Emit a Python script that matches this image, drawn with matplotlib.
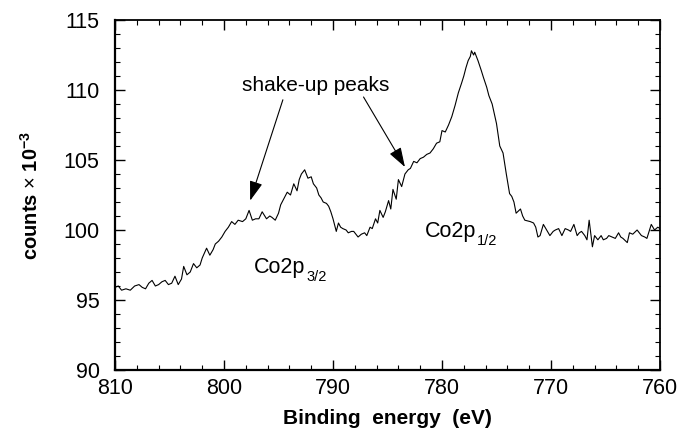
"""
Co 2p XPS spectrum with shake-up satellites
"""

import matplotlib
matplotlib.use('Agg')
import matplotlib.pyplot as plt
from matplotlib.ticker import MultipleLocator

plt.rcParams['font.family'] = ['Liberation Sans', 'DejaVu Sans']
plt.rcParams['mathtext.fontset'] = 'custom'
plt.rcParams['mathtext.rm'] = 'Liberation Sans'
plt.rcParams['mathtext.bf'] = 'Liberation Sans:bold'
plt.rcParams['mathtext.it'] = 'Liberation Sans:italic'

# Binding energy (eV)
energy = [
    810.0, 809.7, 809.4, 809.0, 808.6, 808.2, 807.8, 807.5, 807.2, 806.9,
    806.6, 806.3, 806.0, 805.7, 805.4, 805.1, 804.8, 804.5, 804.2, 803.9,
    803.7, 803.4, 803.1, 802.8, 802.5, 802.2, 802.0, 801.6, 801.3, 801.0,
    800.8, 800.5, 800.2, 799.9, 799.6, 799.3, 799.0, 798.7, 798.3, 798.0,
    797.7, 797.4, 797.1, 796.8, 796.5, 796.1, 795.8, 795.6, 795.3, 795.0,
    794.8, 794.4, 794.2, 793.9, 793.6, 793.3, 793.1, 792.9, 792.6, 792.3,
    792.0, 791.8, 791.5, 791.3, 791.1, 790.9, 790.6, 790.4, 790.2, 790.0,
    789.7, 789.5, 789.3, 789.1, 788.8, 788.6, 788.3, 788.1, 787.9, 787.7,
    787.4, 787.1, 786.9, 786.6, 786.4, 786.1, 785.9, 785.7, 785.4, 785.2,
    784.9, 784.7, 784.5, 784.2, 784.0, 783.7, 783.4, 783.1, 782.9, 782.6,
    782.3, 782.0, 781.7, 781.4, 781.1, 780.8, 780.5, 780.2, 780.0, 779.7,
    779.4, 779.1, 778.8, 778.5, 778.2, 778.0, 777.8, 777.6, 777.4, 777.3,
    777.1, 777.0, 776.8, 776.7, 776.4, 776.2, 775.9, 775.7, 775.4, 775.2,
    775.0, 774.7, 774.4, 774.1, 773.8, 773.6, 773.4, 773.2, 772.8, 772.6,
    772.4, 771.9, 771.6, 771.4, 771.2, 771.0, 770.7, 770.4, 770.1, 769.8,
    769.6, 769.3, 769.0, 768.7, 768.4, 768.2, 767.9, 767.6, 767.4, 767.2,
    766.9, 766.7, 766.5, 766.2, 766.0, 765.7, 765.4, 765.2, 764.9, 764.7,
    764.4, 764.1, 763.8, 763.6, 763.4, 763.0, 762.8, 762.5, 762.1, 761.9,
    761.7, 761.4, 761.2, 760.8, 760.5, 760.2, 760.0,
]

# counts x 10^-3
counts = [
    95.9, 96.0, 95.7, 95.8, 95.7, 96.0, 96.1, 95.9, 95.8, 96.2,
    96.4, 96.0, 96.1, 96.3, 96.4, 96.1, 96.2, 96.7, 96.1, 96.5,
    97.4, 96.8, 97.0, 97.6, 97.3, 97.5, 98.0, 98.7, 98.2, 98.6,
    99.0, 99.2, 99.5, 99.9, 100.2, 100.6, 100.4, 100.7, 100.6, 100.8,
    101.4, 100.7, 100.8, 100.8, 101.3, 100.8, 101.0, 100.9, 100.7, 101.2,
    101.8, 102.4, 102.7, 102.5, 103.3, 102.8, 103.6, 104.0, 104.3, 103.7,
    103.8, 103.3, 103.0, 102.5, 102.3, 102.0, 101.9, 101.7, 101.3, 100.8,
    99.9, 100.5, 100.2, 100.1, 100.0, 99.8, 99.9, 99.9, 99.7, 99.5,
    99.7, 99.8, 99.6, 100.2, 100.1, 100.8, 100.5, 101.4, 100.9, 101.3,
    102.1, 101.5, 102.9, 102.2, 103.6, 103.1, 104.0, 104.3, 104.4, 104.9,
    104.8, 105.1, 105.2, 105.4, 105.5, 105.8, 106.2, 106.3, 107.1, 107.0,
    107.5, 108.1, 108.9, 109.8, 110.5, 111.0, 111.6, 112.1, 112.4, 112.8,
    112.5, 112.7, 112.3, 112.1, 111.4, 110.9, 110.2, 109.6, 109.0, 108.3,
    107.6, 106.0, 105.5, 104.0, 102.6, 102.4, 102.0, 101.2, 101.5, 101.0,
    100.7, 100.6, 100.5, 100.2, 99.5, 99.6, 100.4, 100.0, 99.6, 99.9,
    100.0, 100.1, 99.6, 100.1, 100.0, 99.9, 100.4, 99.6, 99.8, 99.9,
    99.6, 99.3, 100.7, 98.8, 99.6, 99.3, 99.6, 99.3, 99.4, 99.6,
    99.5, 99.4, 99.8, 99.5, 99.4, 99.1, 99.8, 99.7, 100.0, 99.8,
    99.6, 99.5, 99.4, 100.4, 100.0, 100.2, 100.1,
]

fig = plt.figure(figsize=(6.79, 4.28), dpi=100)
ax = fig.add_axes([0.1694, 0.1355, 0.8026, 0.8178])

ax.plot(energy, counts, color='black', linewidth=0.8)

ax.set_xlim(810, 760)
ax.set_ylim(90, 115)
ax.xaxis.set_major_locator(MultipleLocator(10))
ax.xaxis.set_minor_locator(MultipleLocator(2))
ax.yaxis.set_major_locator(MultipleLocator(5))
ax.yaxis.set_minor_locator(MultipleLocator(1))

ax.tick_params(which='both', direction='in', top=True, right=True, labelsize=15.5)
ax.tick_params(which='major', length=7, width=1.0)
ax.tick_params(which='minor', length=3.5, width=0.8)
ax.tick_params(axis='y', pad=11)
ax.tick_params(axis='x', pad=6)
for side in ['left', 'bottom']:
    ax.spines[side].set_linewidth(1.6)
for side in ['top', 'right']:
    ax.spines[side].set_linewidth(1.3)

ax.set_xlabel('Binding  energy  (eV)', fontsize=15, fontweight='bold', labelpad=7)
ax.set_ylabel(r'counts $\times$ 10$^{\mathbf{-3}}$', fontsize=14.5, fontweight='bold', labelpad=16)

# annotations
ax.text(791.6, 110.3, 'shake-up peaks', fontsize=15, ha='center', va='center')
arrow_style = dict(arrowstyle='-|>,head_length=1.2,head_width=0.4', color='black',
                   linewidth=0.8, shrinkA=0, shrinkB=0)
ax.annotate('', xy=(797.6, 102.1), xytext=(794.6, 109.3), arrowprops=arrow_style)
ax.annotate('', xy=(783.4, 104.5), xytext=(787.2, 109.5), arrowprops=arrow_style)

for x, y, sub in [(797.3, 96.9, '3/2'), (781.6, 99.5, '1/2')]:
    t = ax.text(x, y, 'Co2p', fontsize=15.5, ha='left', va='baseline')
    ax.annotate(sub, xy=(1.0, 0.0), xycoords=t, xytext=(1, 1), textcoords='offset points',
                fontsize=10.5, ha='left', va='center')

plt.savefig('out.png', dpi=100)
